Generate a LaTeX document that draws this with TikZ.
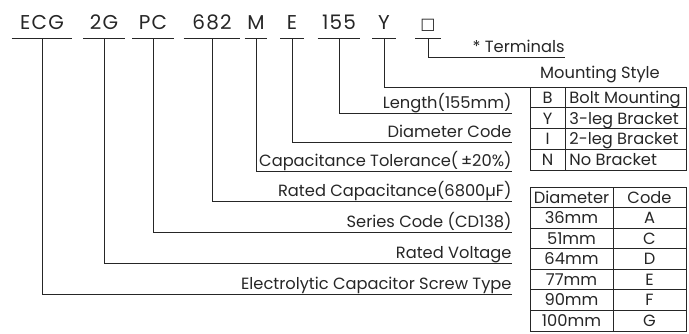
\documentclass[tikz,border=0pt]{standalone}
\usepackage{fontspec}
\setmainfont{Poppins}
\newfontfamily\symfont{DejaVu Sans}
\usepackage{tikz}

\tikzset{
  code/.style={anchor=south, inner xsep=0pt, inner ysep=6pt, text depth=0pt, font=\fontsize{15}{16}\selectfont\addfontfeatures{LetterSpace=6}},
  lab/.style={anchor=south east, inner xsep=0pt, inner ysep=1.2pt, text depth=0.2em, font=\fontsize{12.2}{13}\selectfont},
  cell/.style={anchor=base, inner sep=0pt, font=\fontsize{12.2}{13}\selectfont}
}

\begin{document}
\begin{tikzpicture}[x=0.75pt,y=-0.75pt,line width=0.7pt,color=black!85]
  \useasboundingbox (0,0) rectangle (689,333);
  % part number codes with their underlines
  \foreach \x/\w/\t/\n in {42/60/ECG/ecg, 104/41/2G/volt, 153/41/PC/ser, 212/56/682/cap,
                           256/22/M/tol, 292/23/E/dia, 339/42/155/len, 384/23/Y/mnt,
                           428/25/{{\symfont\fontsize{12}{12}\selectfont □}}/trm}
    { \node [code, minimum width=\w*0.75pt] (\n) at (\x,38) {\t};
      \draw (\n.south west) -- (\n.south east); }
  % labels, each on its own leader line
  \node [lab] (trmlab) at (565,57) {* Terminals};
  \draw (trm.south) |- (trmlab.south east);
  \foreach \n/\y/\t in {len/113/Length(155mm), dia/142/Diameter Code,
                        tol/171/Capacitance Tolerance(\,±20\%),
                        cap/201/Rated Capacitance(6800µF),
                        ser/232/Series Code (CD138), volt/263/Rated Voltage,
                        ecg/294/Electrolytic Capacitor Screw Type}
    { \node [lab] (\n lab) at (512,\y) {\t};
      \draw (\n.south) |- (\n lab.south east); }
  % mounting style table
  \node [cell] (mntlab) at (600,78) {Mounting Style};
  \coordinate (mnttop) at (686,87);
  \draw (mnt.south) |- (mnttop);
  \draw (530,87) -- (530,170) -- (686,170) -- (mnttop);
  \draw (565,87) -- (565,170);
  \foreach \i in {1,2,3} { \draw (530,87+\i*20.75) -- (686,87+\i*20.75); }
  \foreach \c/\d [count=\i] in {B/Bolt Mounting, Y/3-leg Bracket, I/2-leg Bracket, N/No Bracket}
    { \node [cell] (mc\i) at (547.5,87+\i*20.75-4.5) {\c};
      \node [cell, anchor=base west] (md\i) at (569,87+\i*20.75-4.5) {\d}; }
  % diameter code table
  \draw (530,187) rectangle (686,331);
  \draw (613,187) -- (613,331);
  \foreach \i in {1,...,6} { \draw (530,187+\i*20.57) -- (686,187+\i*20.57); }
  \foreach \d/\c [count=\i] in {Diameter/Code, 36mm/A, 51mm/C, 64mm/D, 77mm/E, 90mm/F, 100mm/G}
    { \node [cell] (dd\i) at (571.5,187+\i*20.57-4.5) {\d};
      \node [cell] (dc\i) at (649.5,187+\i*20.57-4.5) {\c}; }
\end{tikzpicture}
\end{document}
